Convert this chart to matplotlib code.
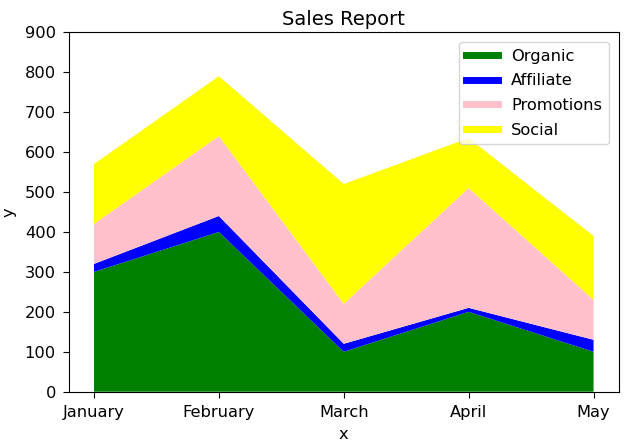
import matplotlib
matplotlib.use("Agg")
import matplotlib.pyplot as plt

months = ["January", "February", "March", "April", "May"]
organic = [300, 400, 100, 200, 100]
affiliate = [20, 40, 20, 10, 30]
promotions = [100, 200, 100, 300, 100]
social = [150, 150, 300, 125, 160]

labels = ["Organic", "Affiliate", "Promotions", "Social"]
colors = ["green", "blue", "pink", "yellow"]

fs = 11.7
fig = plt.figure(figsize=(6.4, 4.47), dpi=100)
ax = fig.add_axes([69 / 640, 1 - 391.7 / 447, (618.5 - 69) / 640, (391.7 - 32.3) / 447])

x = list(range(len(months)))
ax.stackplot(x, organic, affiliate, promotions, social, colors=colors)
for lab, c in zip(labels, colors):
    ax.plot([], [], color=c, label=lab, linewidth=5)

ax.set_xticks(x)
ax.set_xticklabels(months)
ax.set_ylim(0, 900)
ax.tick_params(labelsize=fs, length=4.5, pad=5)
ax.set_xlabel("x", fontsize=fs, labelpad=5)
ax.set_ylabel("y", fontsize=fs, labelpad=6)
ax.set_title("Sales Report", fontsize=14, pad=5)
ax.legend(loc="upper right", fontsize=fs, labelspacing=0.6, borderaxespad=0.6)

fig.savefig("out.png", dpi=100)
